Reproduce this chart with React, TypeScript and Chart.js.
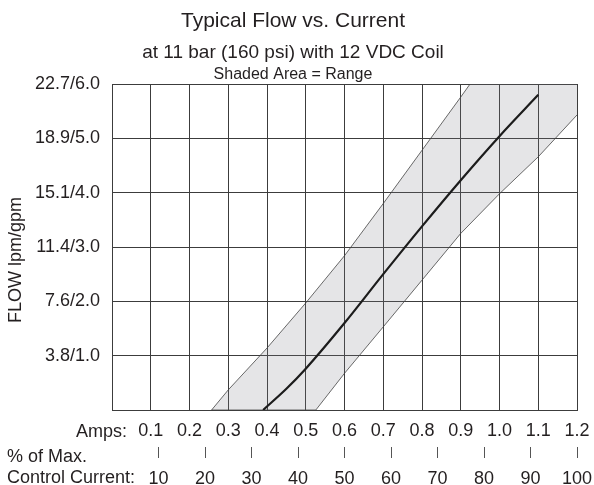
import React, { useEffect, useRef } from 'react';
import { Chart, registerables } from 'chart.js';

Chart.register(...registerables);

const FONT = "'Liberation Sans', Arial, Helvetica, sans-serif";
const TEXT = '#231f20';
const GRID = '#3c3c3c';

const titleLines = ['Typical Flow vs. Current', 'at 11 bar (160 psi) with 12 VDC Coil', 'Shaded Area = Range'];
const yAxisTitle = 'FLOW lpm/gpm';
const ampsRowLabel = 'Amps:';
const percentRowLabels = ['% of Max.', 'Control Current:'];

const yTickLabels = ['', '3.8/1.0', '7.6/2.0', '11.4/3.0', '15.1/4.0', '18.9/5.0', '22.7/6.0'];
const ampsTickLabels = ['', '0.1', '0.2', '0.3', '0.4', '0.5', '0.6', '0.7', '0.8', '0.9', '1.0', '1.1', '1.2'];
const percentTickLabels = ['', '10', '20', '30', '40', '50', '60', '70', '80', '90', '100'];

// Typical flow curve (amps -> gpm)
const mainAmps = [0.39, 0.45, 0.5, 0.6, 0.7, 0.8, 0.9, 1.0, 1.1];
const mainFlow = [0, 0.39, 0.76, 1.6, 2.5, 3.38, 4.23, 5.04, 5.8];

// Range: high-flow edge (left boundary)
const rangeHighAmps = [0.257, 0.3, 0.4, 0.5, 0.6, 0.7, 0.8, 0.9, 0.924, 1.2];
const rangeHighFlow = [0, 0.37, 1.14, 1.97, 2.84, 3.8, 4.78, 5.76, 6.0, 6.0];

// Range: low-flow edge (right boundary)
const rangeLowAmps = [0.257, 0.526, 0.6, 0.7, 0.8, 0.9, 1.0, 1.1, 1.2];
const rangeLowFlow = [0, 0, 0.675, 1.53, 2.39, 3.25, 3.98, 4.66, 5.43];

const toPoints = (xs: number[], ys: number[]) => xs.map((x, i) => ({ x, y: ys[i] }));

const textPlugin = {
  id: 'extraText',
  afterDraw(chart: any) {
    const ctx = chart.ctx;
    const xs = chart.scales.x;
    const x2 = chart.scales.x2;
    const ca = chart.chartArea;
    ctx.save();
    ctx.fillStyle = TEXT;
    ctx.textBaseline = 'alphabetic';
    ctx.textAlign = 'center';
    ctx.font = `21px ${FONT}`;
    ctx.fillText(titleLines[0], 293, 27);
    ctx.font = `19px ${FONT}`;
    ctx.fillText(titleLines[1], 293, 58);
    ctx.font = `16px ${FONT}`;
    ctx.fillText(titleLines[2], 293, 79);

    ctx.font = `18px ${FONT}`;
    ctx.textAlign = 'left';
    ctx.fillText(ampsRowLabel, 76, xs.top + 27);
    ctx.fillText(percentRowLabels[0], 7, x2.top + 15);
    ctx.fillText(percentRowLabels[1], 7, x2.top + 36);

    ctx.translate(21, (ca.top + ca.bottom) / 2 + 13);
    ctx.rotate(-Math.PI / 2);
    ctx.textAlign = 'center';
    ctx.fillText(yAxisTitle, 0, 0);
    ctx.restore();
  },
};

const noSidePad = (s: any) => {
  s.paddingLeft = 0;
  s.paddingRight = 0;
};

export default function App() {
  const ref = useRef<HTMLCanvasElement | null>(null);

  useEffect(() => {
    if (!ref.current) return;
    const chart = new Chart(ref.current, {
      type: 'line',
      data: {
        datasets: [
          {
            label: 'Typical',
            data: toPoints(mainAmps, mainFlow),
            borderColor: '#1c1c1c',
            borderWidth: 2.2,
            pointRadius: 0,
            fill: false,
            cubicInterpolationMode: 'monotone',
          },
          {
            label: 'Range high',
            data: toPoints(rangeHighAmps, rangeHighFlow),
            borderColor: '#444',
            borderWidth: 0.8,
            pointRadius: 0,
            fill: false,
            tension: 0,
          },
          {
            label: 'Range low',
            data: toPoints(rangeLowAmps, rangeLowFlow),
            borderColor: '#444',
            borderWidth: 0.8,
            pointRadius: 0,
            fill: 1,
            backgroundColor: 'rgba(125,125,135,0.2)',
            tension: 0,
          },
        ],
      },
      options: {
        responsive: false,
        animation: false,
        layout: { padding: { top: 84, right: 17, left: 0, bottom: 0 } },
        plugins: {
          legend: { display: false },
          title: { display: false },
          tooltip: { enabled: false },
        },
        scales: {
          x: {
            type: 'linear',
            position: 'bottom',
            weight: 0,
            min: 0,
            max: 1.2,
            ticks: {
              stepSize: 0.1,
              color: TEXT,
              font: { family: FONT, size: 18 },
              padding: 10,
              maxRotation: 0,
              autoSkip: false,
              callback: (_v: any, i: number) => ampsTickLabels[i] ?? '',
            },
            grid: { color: GRID, lineWidth: 1, drawTicks: false },
            border: { display: true, color: GRID, width: 1 },
            afterFit: (s: any) => { s.height = 37; noSidePad(s); },
          },
          x2: {
            type: 'linear',
            position: 'bottom',
            weight: 1,
            min: 0,
            max: 100,
            ticks: {
              stepSize: 10,
              color: TEXT,
              font: { family: FONT, size: 18 },
              padding: 10,
              maxRotation: 0,
              autoSkip: false,
              callback: (_v: any, i: number) => percentTickLabels[i] ?? '',
            },
            grid: {
              drawOnChartArea: false,
              drawTicks: true,
              tickLength: 11,
              lineWidth: 1,
              color: (c: any) => (c.tick && c.tick.value === 0 ? 'rgba(0,0,0,0)' : '#555'),
            },
            border: { display: false },
            afterFit: (s: any) => { s.height = 38; noSidePad(s); },
          },
          y: {
            type: 'linear',
            min: 0,
            max: 6,
            ticks: {
              stepSize: 1,
              color: TEXT,
              font: { family: FONT, size: 18 },
              padding: 12,
              callback: (_v: any, i: number) => yTickLabels[i] ?? '',
            },
            grid: { color: GRID, lineWidth: 1, drawTicks: false },
            border: { display: true, color: GRID, width: 1 },
            afterFit: (s: any) => { s.width = 112; s.paddingTop = 0; s.paddingBottom = 0; },
          },
        },
      } as any,
      plugins: [textPlugin],
    });
    return () => chart.destroy();
  }, []);

  return (
    <div style={{ position: 'fixed', left: 0, top: 0, width: 594, height: 485, background: '#fff' }}>
      <canvas ref={ref} width={594} height={485} style={{ display: 'block' }} />
    </div>
  );
}
